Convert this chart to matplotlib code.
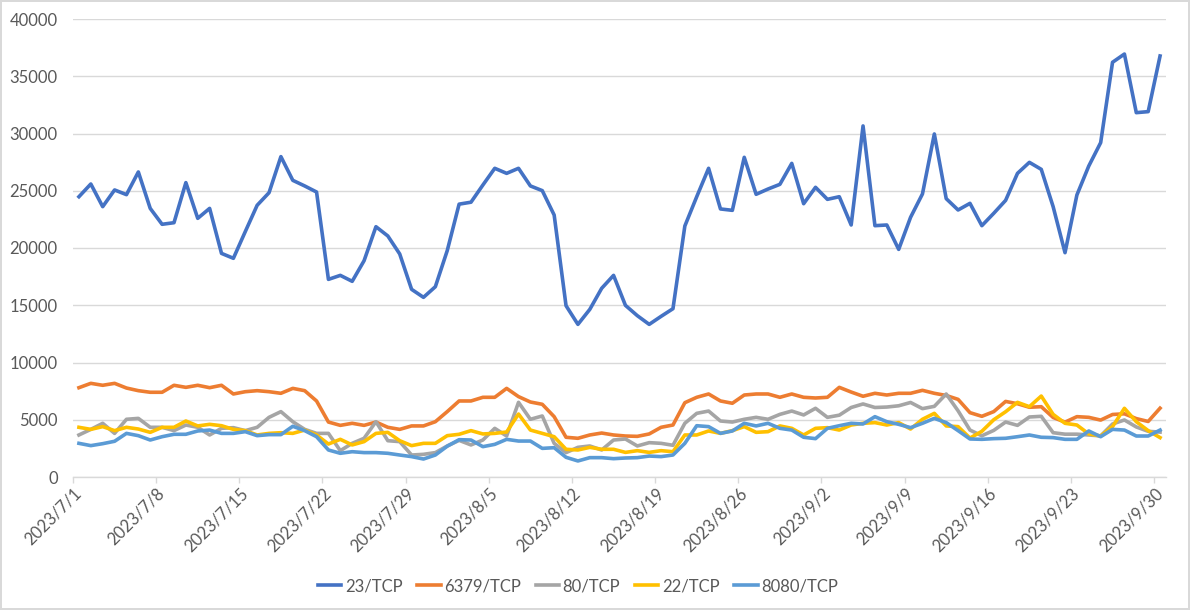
import matplotlib
matplotlib.use('Agg')
import matplotlib.pyplot as plt
import numpy as np
import pandas as pd

dates = pd.date_range('2023-07-01', '2023-09-30', freq='D')
date_labels = [f'{d.year}/{d.month}/{d.day}' for d in dates]

tcp_23 = [24480, 25590, 23610, 25070, 24660, 26640, 23460, 22070, 22210, 25710,
          22590, 23460, 19530, 19100, 21430, 23730, 24830, 27980, 25910, 25420,
          24890, 17260, 17610, 17090, 18890, 21860, 21050, 19480, 16390, 15690,
          16620, 19770, 23830, 24000, 25500, 26960, 26520, 26960, 25420, 25010,
          22880, 14960, 13330, 14640, 16480, 17610, 14990, 14090, 13330, 14030,
          14700, 21920, 24480, 26960, 23410, 23290, 27920, 24690, 25150, 25560,
          27390, 23870, 25300, 24250, 24480, 22010, 30660, 21950, 22010, 19880,
          22680, 24720, 29960, 24310, 23320, 23900, 21950, 23030, 24160, 26520,
          27480, 26870, 23610, 19590, 24630, 27160, 29200, 36220, 36940, 31820,
          31910, 36770]

tcp_6379 = [7800, 8180, 8010, 8180, 7770, 7540, 7400, 7400, 8010, 7830,
            8010, 7800, 8010, 7250, 7450, 7540, 7450, 7310, 7740, 7540,
            6640, 4800, 4510, 4690, 4510, 4800, 4340, 4160, 4460, 4460,
            4830, 5710, 6640, 6640, 6960, 6960, 7740, 7020, 6550, 6350,
            5270, 3470, 3380, 3670, 3840, 3670, 3580, 3550, 3760, 4340,
            4540, 6490, 6960, 7250, 6640, 6440, 7160, 7250, 7250, 6960,
            7250, 6960, 6900, 6960, 7830, 7420, 7050, 7310, 7160, 7310,
            7310, 7570, 7310, 7120, 6780, 5620, 5300, 5710, 6600, 6400,
            6090, 6140, 5200, 4790, 5270, 5210, 4970, 5460, 5520, 5100,
            4850, 6010]

tcp_80 = [3670, 4160, 4690, 3810, 5040, 5120, 4340, 4340, 4050, 4540,
          4340, 3670, 4250, 4310, 4050, 4340, 5210, 5710, 4830, 4160,
          3810, 3810, 2300, 2940, 3380, 4830, 3170, 3090, 1920, 1980,
          2130, 2710, 3200, 2800, 3230, 4250, 3580, 6520, 5040, 5330,
          2940, 2130, 2590, 2710, 2360, 3230, 3320, 2710, 3000, 2940,
          2770, 4690, 5560, 5760, 4890, 4800, 5040, 5210, 5040, 5470,
          5760, 5420, 6000, 5210, 5400, 6070, 6380, 6070, 6110, 6220,
          6510, 5970, 6170, 7250, 5780, 4100, 3600, 4070, 4800, 4510,
          5240, 5300, 3870, 3740, 3740, 3670, 3590, 4630, 4980, 4370,
          3990, 3920]

tcp_22 = [4340, 4160, 4400, 4050, 4340, 4190, 3900, 4340, 4340, 4890,
          4460, 4600, 4480, 4160, 4050, 3670, 3810, 3870, 3810, 4100,
          3670, 2880, 3290, 2800, 3090, 3810, 3900, 3170, 2740, 2940,
          2940, 3610, 3730, 4050, 3760, 3810, 3930, 5500, 4100, 3810,
          3520, 2420, 2360, 2590, 2420, 2420, 2150, 2300, 2150, 2300,
          2210, 3670, 3670, 4020, 3810, 4050, 4400, 3900, 3960, 4460,
          4250, 3670, 4250, 4310, 4100, 4540, 4690, 4750, 4540, 4750,
          4190, 5040, 5560, 4460, 4400, 3400, 3990, 5000, 5700, 6520,
          6140, 7070, 5470, 4690, 4540, 3760, 3580, 4400, 6000, 4830,
          4050, 3440]

tcp_8080 = [2940, 2740, 2910, 3120, 3810, 3610, 3230, 3520, 3730, 3730,
            4020, 4100, 3810, 3810, 3960, 3610, 3700, 3700, 4430, 4050,
            3520, 2360, 2070, 2210, 2130, 2130, 2070, 1920, 1780, 1570,
            1920, 2690, 3260, 3230, 2650, 2850, 3290, 3140, 3140, 2500,
            2560, 1720, 1400, 1690, 1690, 1600, 1660, 1690, 1830, 1780,
            1920, 2940, 4480, 4400, 3810, 4020, 4690, 4460, 4690, 4250,
            4100, 3470, 3350, 4250, 4480, 4690, 4630, 5270, 4830, 4600,
            4310, 4690, 5120, 4750, 4050, 3320, 3290, 3350, 3380, 3520,
            3670, 3470, 3440, 3290, 3290, 4020, 3520, 4160, 4100, 3580,
            3580, 4100]

series = [('23/TCP', tcp_23, '#4472C4'),
          ('6379/TCP', tcp_6379, '#ED7D31'),
          ('80/TCP', tcp_80, '#A5A5A5'),
          ('22/TCP', tcp_22, '#FFC000'),
          ('8080/TCP', tcp_8080, '#5B9BD5')]

plt.rcParams['font.family'] = ['Lato', 'DejaVu Sans']
text_color = '#595959'
grid_color = '#D9D9D9'
fs = 12

fig = plt.figure(figsize=(11.9, 6.1), dpi=100)
fig.patch.set_edgecolor(grid_color)
fig.patch.set_linewidth(1.5)
ax = fig.add_axes([73 / 1190, 1 - 477 / 610, (1166 - 73) / 1190, (477 - 19) / 610])

x = np.arange(len(dates))
for name, vals, col in series:
    ax.plot(x, vals, color=col, lw=2.6, label=name, solid_joinstyle='round')

ax.set_xlim(-0.5, len(dates) - 0.5)
ax.set_ylim(0, 40000)
ax.set_yticks(np.arange(0, 40001, 5000))
ax.yaxis.grid(True, color=grid_color, lw=1)
ax.set_axisbelow(True)

for s in ['top', 'right', 'left']:
    ax.spines[s].set_visible(False)
ax.spines['bottom'].set_color(grid_color)
ax.spines['bottom'].set_linewidth(1)

ax.tick_params(axis='y', length=0, pad=11, labelsize=fs, labelcolor=text_color)

tick_pos = x[::7]
ax.set_xticks(tick_pos)
ax.set_xticklabels([date_labels[i] for i in tick_pos], rotation=45,
                   ha='right', va='center', rotation_mode='anchor')
ax.tick_params(axis='x', length=0, pad=10, labelsize=fs, labelcolor=text_color)
ax.set_xticks(np.arange(-0.5, len(dates), 7), minor=True)
ax.tick_params(axis='x', which='minor', length=4, color=grid_color, width=1)

fig.legend(loc='center', bbox_to_anchor=(578 / 1190, 1 - 586 / 610), ncol=5, frameon=False,
           fontsize=fs, labelcolor=text_color, handlelength=1.4,
           handletextpad=0.2, columnspacing=0.9)

fig.savefig('out.png', dpi=100, edgecolor=fig.get_edgecolor())
